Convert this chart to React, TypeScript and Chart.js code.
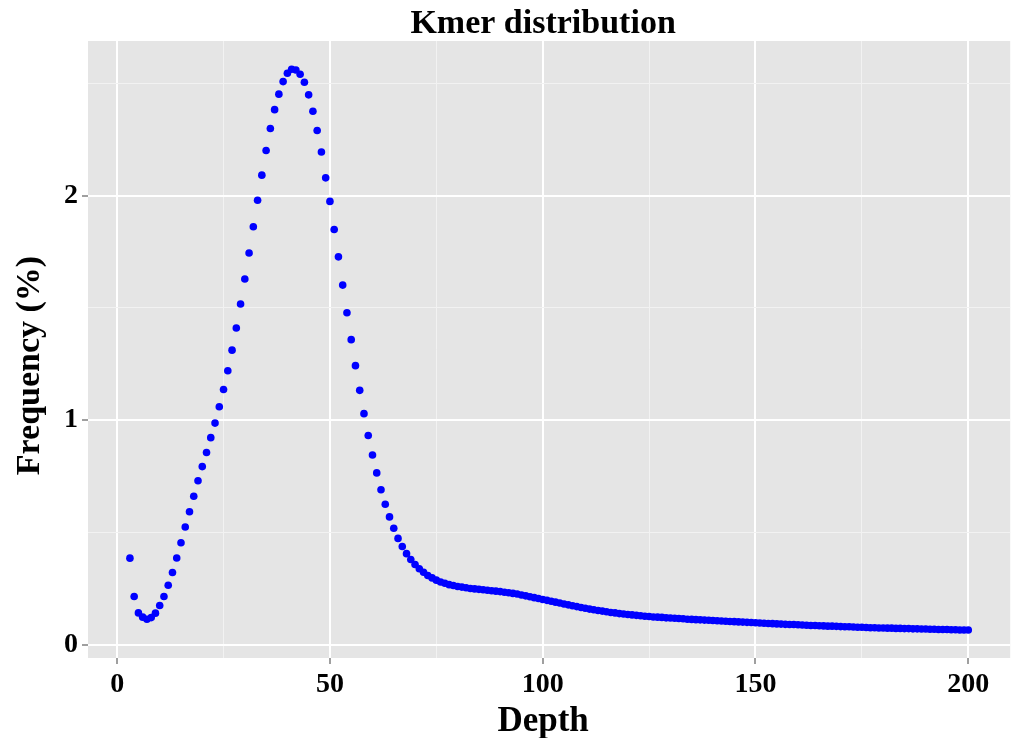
import React, { useEffect, useRef } from "react";
import { Chart, registerables } from "chart.js";

Chart.register(...registerables);

const TITLE = "Kmer distribution";
const X_TITLE = "Depth";
const Y_TITLE = "Frequency (%)";

const DEPTHS = [
  3, 4, 5, 6, 7, 8, 9, 10, 11, 12, 13, 14, 15, 16, 17, 18, 19, 20,
  21, 22, 23, 24, 25, 26, 27, 28, 29, 30, 31, 32, 33, 34, 35, 36, 37, 38, 39, 40,
  41, 42, 43, 44, 45, 46, 47, 48, 49, 50, 51, 52, 53, 54, 55, 56, 57, 58, 59, 60,
  61, 62, 63, 64, 65, 66, 67, 68, 69, 70, 71, 72, 73, 74, 75, 76, 77, 78, 79, 80,
  81, 82, 83, 84, 85, 86, 87, 88, 89, 90, 91, 92, 93, 94, 95, 96, 97, 98, 99, 100,
  101, 102, 103, 104, 105, 106, 107, 108, 109, 110, 111, 112, 113, 114, 115, 116, 117, 118, 119, 120,
  121, 122, 123, 124, 125, 126, 127, 128, 129, 130, 131, 132, 133, 134, 135, 136, 137, 138, 139, 140,
  141, 142, 143, 144, 145, 146, 147, 148, 149, 150, 151, 152, 153, 154, 155, 156, 157, 158, 159, 160,
  161, 162, 163, 164, 165, 166, 167, 168, 169, 170, 171, 172, 173, 174, 175, 176, 177, 178, 179, 180,
  181, 182, 183, 184, 185, 186, 187, 188, 189, 190, 191, 192, 193, 194, 195, 196, 197, 198, 199, 200,
];

const FREQUENCY = [
  0.385, 0.214, 0.141, 0.122, 0.113, 0.12, 0.14, 0.174, 0.214, 0.264, 0.321, 0.386, 0.454, 0.524, 0.592, 0.661, 0.73, 0.793,
  0.856, 0.922, 0.987, 1.06, 1.137, 1.22, 1.312, 1.411, 1.518, 1.629, 1.745, 1.862, 1.98, 2.092, 2.202, 2.3, 2.384, 2.453, 2.509, 2.546,
  2.564, 2.561, 2.542, 2.506, 2.45, 2.377, 2.291, 2.195, 2.08, 1.975, 1.85, 1.728, 1.602, 1.479, 1.359, 1.243, 1.133, 1.029, 0.932, 0.845,
  0.765, 0.69, 0.625, 0.569, 0.518, 0.473, 0.437, 0.405, 0.379, 0.357, 0.338, 0.322, 0.308, 0.297, 0.287, 0.279, 0.273, 0.267, 0.263, 0.259,
  0.256, 0.253, 0.25, 0.248, 0.246, 0.244, 0.242, 0.24, 0.238, 0.236, 0.233, 0.231, 0.228, 0.225, 0.221, 0.217, 0.213, 0.209, 0.205, 0.201,
  0.197, 0.193, 0.189, 0.185, 0.181, 0.177, 0.173, 0.169, 0.165, 0.162, 0.158, 0.155, 0.152, 0.149, 0.146, 0.143, 0.141, 0.138, 0.136, 0.134,
  0.132, 0.13, 0.128, 0.126, 0.125, 0.123, 0.122, 0.121, 0.119, 0.118, 0.117, 0.116, 0.115, 0.113, 0.112, 0.111, 0.11, 0.109, 0.108, 0.107,
  0.106, 0.105, 0.104, 0.103, 0.102, 0.101, 0.1, 0.099, 0.098, 0.097, 0.096, 0.095, 0.094, 0.093, 0.092, 0.091, 0.09, 0.089, 0.089, 0.088,
  0.087, 0.086, 0.085, 0.085, 0.084, 0.083, 0.082, 0.082, 0.081, 0.08, 0.079, 0.079, 0.078, 0.077, 0.077, 0.076, 0.075, 0.075, 0.074, 0.074,
  0.073, 0.073, 0.072, 0.072, 0.071, 0.071, 0.07, 0.07, 0.069, 0.069, 0.068, 0.068, 0.067, 0.067, 0.067, 0.066, 0.066, 0.065, 0.065, 0.065,
];

const X_MAJOR = [0, 50, 100, 150, 200];
const X_MINOR = [25, 75, 125, 175];
const Y_MAJOR = [0, 1, 2];
const Y_MINOR = [0.5, 1.5, 2.5];

const X_RANGE = [-6.85, 209.85];
const Y_RANGE = [-0.06, 2.69];

const FONT_FAMILY = '"Liberation Serif", "Times New Roman", serif';

const panelBackground = {
  id: "panelBackground",
  beforeDraw(chart: any) {
    const { ctx, chartArea } = chart;
    if (!chartArea) return;
    ctx.save();
    ctx.fillStyle = "#E5E5E5";
    ctx.fillRect(chartArea.left, chartArea.top, chartArea.right - chartArea.left, chartArea.bottom - chartArea.top);
    ctx.restore();
  },
};

// Title and axis titles centred on the panel (as ggplot does)
const panelTitles = {
  id: "panelTitles",
  afterDraw(chart: any) {
    const { ctx, chartArea } = chart;
    if (!chartArea) return;
    const cx = (chartArea.left + chartArea.right) / 2;
    const cy = (chartArea.top + chartArea.bottom) / 2;
    ctx.save();
    ctx.fillStyle = "#000000";
    ctx.textAlign = "center";
    ctx.textBaseline = "alphabetic";
    ctx.font = `bold 34px ${FONT_FAMILY}`;
    ctx.fillText(TITLE, cx - 6, chartArea.top - 8);
    ctx.font = `bold 35px ${FONT_FAMILY}`;
    ctx.fillText(X_TITLE, cx - 6, chartArea.bottom + 73);
    ctx.translate(30, cy + 16);
    ctx.rotate(-Math.PI / 2);
    ctx.textBaseline = "middle";
    ctx.font = `bold 34px ${FONT_FAMILY}`;
    ctx.fillText(Y_TITLE, 0, 0);
    ctx.restore();
  },
};

function isMajor(list: number[], v: number) {
  return list.some((m) => Math.abs(m - v) < 1e-9);
}

export default function App() {
  const canvasRef = useRef<HTMLCanvasElement | null>(null);

  useEffect(() => {
    if (!canvasRef.current) return;
    const points = DEPTHS.map((d, i) => ({ x: d, y: FREQUENCY[i] }));

    const chart = new Chart(canvasRef.current, {
      type: "scatter",
      data: {
        datasets: [
          {
            data: points,
            backgroundColor: "#0000FF",
            borderWidth: 0,
            pointRadius: 3.8,
            pointHoverRadius: 3.8,
          },
        ],
      },
      plugins: [panelBackground, panelTitles],
      options: {
        responsive: true,
        maintainAspectRatio: false,
        animation: false,
        layout: { padding: { left: 0, right: 3, top: 41, bottom: 0 } },
        plugins: {
          legend: { display: false },
          tooltip: { enabled: false },
          title: { display: false },
        },
        scales: {
          x: {
            type: "linear",
            min: X_RANGE[0],
            max: X_RANGE[1],
            afterBuildTicks: (scale: any) => {
              scale.ticks = [...X_MAJOR, ...X_MINOR].sort((a, b) => a - b).map((v) => ({ value: v }));
            },
            afterFit: (scale: any) => {
              scale.height = 80;
            },
            border: { display: false },
            grid: {
              color: (ctx: any) => (ctx.tick && isMajor(X_MAJOR, ctx.tick.value) ? "#FFFFFF" : "#F2F2F2"),
              lineWidth: (ctx: any) => (ctx.tick && isMajor(X_MAJOR, ctx.tick.value) ? 2 : 1),
              tickColor: (ctx: any) => (ctx.tick && isMajor(X_MAJOR, ctx.tick.value) ? "#7F7F7F" : "rgba(0,0,0,0)"),
              tickLength: 6,
              tickWidth: 1.5,
            },
            ticks: {
              autoSkip: false,
              maxRotation: 0,
              padding: 4,
              color: "#000000",
              font: { family: FONT_FAMILY, size: 28, weight: "bold" },
              callback: (v: any) => (isMajor(X_MAJOR, Number(v)) ? String(v) : ""),
            },
            title: { display: false },
          },
          y: {
            type: "linear",
            min: Y_RANGE[0],
            max: Y_RANGE[1],
            afterBuildTicks: (scale: any) => {
              scale.ticks = [...Y_MAJOR, ...Y_MINOR].sort((a, b) => a - b).map((v) => ({ value: v }));
            },
            afterFit: (scale: any) => {
              scale.width = 88;
            },
            border: { display: false },
            grid: {
              color: (ctx: any) => (ctx.tick && isMajor(Y_MAJOR, ctx.tick.value) ? "#FFFFFF" : "#F2F2F2"),
              lineWidth: (ctx: any) => (ctx.tick && isMajor(Y_MAJOR, ctx.tick.value) ? 2 : 1),
              tickColor: (ctx: any) => (ctx.tick && isMajor(Y_MAJOR, ctx.tick.value) ? "#7F7F7F" : "rgba(0,0,0,0)"),
              tickLength: 6,
              tickWidth: 1.5,
            },
            ticks: {
              autoSkip: false,
              padding: 4,
              color: "#000000",
              font: { family: FONT_FAMILY, size: 28, weight: "bold" },
              callback: (v: any) => (isMajor(Y_MAJOR, Number(v)) ? String(v) : ""),
            },
            title: { display: false },
          },
        },
      },
    } as any);

    return () => chart.destroy();
  }, []);

  return (
    <div style={{ position: "fixed", left: 0, top: 0, width: 1014, height: 738, background: "#FFFFFF" }}>
      <canvas ref={canvasRef} />
    </div>
  );
}
